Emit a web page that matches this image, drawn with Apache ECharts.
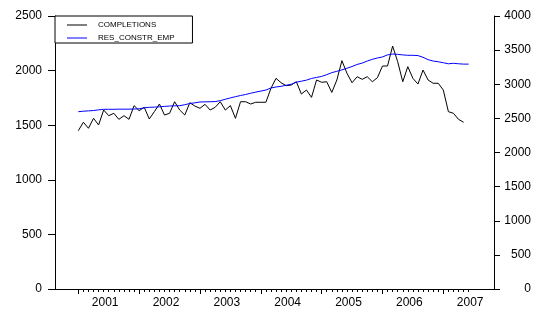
<!DOCTYPE html>
<html>
<head>
<meta charset="utf-8">
<script src="https://cdn.jsdelivr.net/npm/echarts@6/dist/echarts.min.js"></script>
<style>
html,body{margin:0;padding:0;background:#fff;}
#chart{width:548px;height:329px;}
</style>
</head>
<body>
<div id="chart"></div>
<script>
// Monthly observations, 2001-01 onward
var months = [];
for (var y = 2001; y <= 2007; y++) {
  for (var m = 1; m <= 12; m++) {
    if (y === 2007 && m > 6) break;
    months.push(y + '-' + (m < 10 ? '0' + m : m));
  }
}
var yearLabels = ['2001', '2002', '2003', '2004', '2005', '2006', '2007'];

// COMPLETIONS (left axis), 2001-01 .. 2007-05
var completions = [
  1450, 1527, 1472, 1563, 1502, 1639, 1587, 1609, 1554, 1587, 1554, 1679,
  1633, 1664, 1557, 1624, 1694, 1593, 1609, 1715, 1639, 1593, 1706, 1675,
  1655, 1691, 1639, 1664, 1715, 1639, 1679, 1563, 1715, 1715, 1694, 1710,
  1710, 1710, 1838, 1929, 1889, 1862, 1868, 1898, 1786, 1822, 1755, 1914,
  1893, 1898, 1800, 1914, 2091, 1975, 1889, 1944, 1920, 1944, 1898, 1935,
  2042, 2042, 2225, 2082, 1898, 2036, 1929, 1877, 2005, 1914, 1884, 1884,
  1822, 1624, 1609, 1554, 1527
];

// RES_CONSTR_EMP (right axis), 2001-01 .. 2007-06
var resConstrEmp = [
  2598, 2605, 2610, 2615, 2625, 2633, 2633, 2633, 2635, 2635, 2635, 2637,
  2640, 2655, 2662, 2665, 2670, 2675, 2681, 2684, 2686, 2700, 2718, 2728,
  2740, 2742, 2744, 2746, 2760, 2780, 2800, 2818, 2835, 2850, 2868, 2885,
  2900, 2915, 2945, 2960, 2970, 2985, 3000, 3030, 3045, 3060, 3085, 3100,
  3115, 3140, 3170, 3190, 3210, 3235, 3260, 3290, 3310, 3340, 3365, 3385,
  3400, 3430, 3443, 3438, 3430, 3424, 3424, 3420, 3395, 3360, 3340, 3330,
  3315, 3300, 3307, 3300, 3295, 3295
];

var leftTicks = [0, 500, 1000, 1500, 2000, 2500];
var rightTicks = [0, 500, 1000, 1500, 2000, 2500, 3000, 3500, 4000];

function pairs(arr) { return arr.map(function (v, i) { return [i, v]; }); }
var monthIdx = months.map(function (_, i) { return i; });
var yearStartIdx = yearLabels.map(function (_, k) { return k * 12; });
var yearMidIdx = yearLabels.map(function (_, k) { return k * 12 + 5.3; });

var FONT = 'Liberation Sans';
var plain = function (v) { return String(v); };
var chart = echarts.init(document.getElementById('chart'), null, {renderer: 'canvas'});
chart.setOption({
  animation: false,
  backgroundColor: '#fff',
  grid: {left: 55, right: 54, top: 16, bottom: 40, containLabel: false},
  legend: {
    left: 55, top: 16, orient: 'vertical',
    borderColor: '#000', borderWidth: 1, borderRadius: 0,
    backgroundColor: '#fff',
    padding: [5, 18, 1, 12],
    icon: 'rect',
    itemWidth: 20, itemHeight: 1, itemGap: 5,
    textStyle: {fontFamily: FONT, fontSize: 8, color: '#000', lineHeight: 8, padding: [0, 0, 0, 6]},
    data: ['COMPLETIONS', 'RES_CONSTR_EMP']
  },
  xAxis: [{
    type: 'value', min: -4.6, max: 82,
    axisLine: {show: true, onZero: false, lineStyle: {color: '#000', width: 1}},
    axisTick: {show: true, customValues: monthIdx, length: 3, lineStyle: {color: '#000'}},
    axisLabel: {
      show: true, customValues: yearMidIdx, margin: 8,
      fontFamily: FONT, fontSize: 12, color: '#000',
      formatter: function (v) { return yearLabels[Math.floor(v / 12)]; }
    },
    splitLine: {show: false}
  }, {
    type: 'value', min: -4.6, max: 82, position: 'bottom',
    axisLine: {show: false, onZero: false},
    axisTick: {show: true, customValues: yearStartIdx, length: 5, lineStyle: {color: '#000'}},
    axisLabel: {show: false},
    splitLine: {show: false}
  }],
  yAxis: [{
    type: 'value', min: 0, max: 2500, interval: 500, position: 'left',
    axisLine: {show: true, onZero: false, lineStyle: {color: '#000'}},
    axisTick: {show: true, length: 7, lineStyle: {color: '#000'}},
    axisLabel: {margin: 13, fontFamily: FONT, fontSize: 12, color: '#000',
      customValues: leftTicks, formatter: plain},
    splitLine: {show: false}
  }, {
    type: 'value', min: 0, max: 4000, interval: 500, position: 'right',
    axisLine: {show: true, onZero: false, lineStyle: {color: '#000'}},
    axisTick: {show: true, length: 6, lineStyle: {color: '#000'}},
    axisLabel: {margin: 37, align: 'right', fontFamily: FONT, fontSize: 12, color: '#000',
      customValues: rightTicks, formatter: plain},
    splitLine: {show: false}
  }],
  series: [{
    name: 'COMPLETIONS', type: 'line', xAxisIndex: 0, yAxisIndex: 0,
    data: pairs(completions), symbol: 'none', showSymbol: false,
    lineStyle: {color: '#000', width: 1}, itemStyle: {color: '#000'}
  }, {
    name: 'RES_CONSTR_EMP', type: 'line', xAxisIndex: 0, yAxisIndex: 1,
    data: pairs(resConstrEmp), symbol: 'none', showSymbol: false,
    lineStyle: {color: '#0000ff', width: 1}, itemStyle: {color: '#0000ff'}
  }]
});
</script>
</body>
</html>
